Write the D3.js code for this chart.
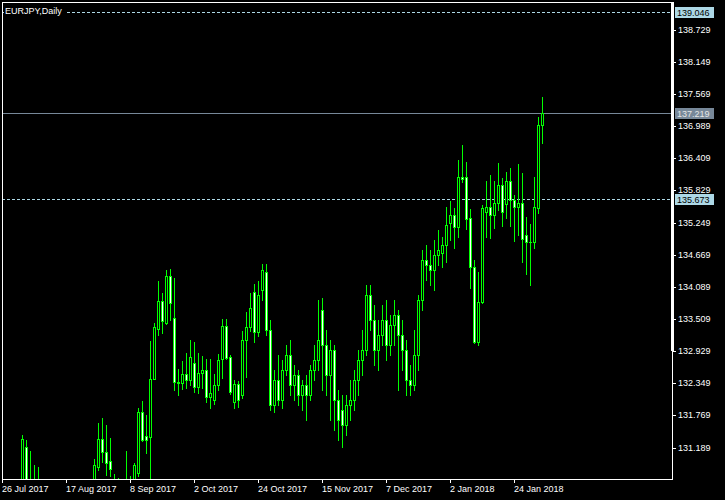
<!DOCTYPE html>
<html><head><meta charset="utf-8">
<script src="https://cdn.jsdelivr.net/npm/d3@7"></script>
<style>html,body{margin:0;padding:0;background:#000;}svg{display:block;}</style>
</head><body>
<svg id="c" width="725" height="500"></svg>
<script>
const title = "EURJPY,Daily";
const xTickIdx = [0,16,32,48,64,80,96,112,128];
const xTickLabels = ["26 Jul 2017","17 Aug 2017","8 Sep 2017","2 Oct 2017","24 Oct 2017","15 Nov 2017","7 Dec 2017","2 Jan 2018","24 Jan 2018"];
const yTicks = [131.189,131.769,132.349,132.929,133.509,134.089,134.669,135.249,135.829,136.409,136.989,137.569,138.149,138.729];
const levelLines = [139.046, 135.673];
const bidPrice = 137.219;
const yDomain = [130.624, 139.225];

const open = [130.20,130.35,130.25,130.10,130.40,130.45,131.20,130.50,130.20,130.40,
130.10,129.85,130.05,130.30,130.00,129.75,129.90,129.65,129.80,130.10,
130.30,130.10,130.20,130.40,130.84,131.35,131.11,130.95,130.55,130.35,
130.20,130.40,130.50,130.30,130.73,131.83,131.40,131.38,132.43,133.33,
133.83,133.44,134.28,133.52,132.37,132.35,132.51,132.41,132.71,132.29,
132.53,132.59,132.11,132.05,132.32,132.78,133.38,132.82,132.01,132.34,
132.14,133.13,133.36,133.99,133.28,134.03,134.36,133.31,131.96,132.41,
132.05,132.59,132.86,132.32,132.50,132.14,132.32,132.14,132.59,132.77,
133.67,133.04,132.50,132.95,132.05,131.87,131.60,131.96,132.05,132.41,
132.77,132.95,133.94,133.49,132.95,133.22,133.49,133.04,133.40,133.58,
133.22,132.95,132.41,132.32,132.86,133.85,134.57,134.48,134.39,134.66,
134.70,134.84,135.24,135.38,135.17,136.07,136.07,135.33,134.45,133.10,
133.82,135.44,135.52,135.38,135.60,135.92,135.58,136.00,135.65,135.53,
135.60,135.02,134.90,134.90,135.51,137.00];
const high = [130.45,130.50,130.40,130.45,130.55,131.42,131.33,131.13,130.88,130.84,
130.40,130.20,130.45,130.55,130.30,130.10,130.20,130.00,130.25,130.50,
130.55,130.40,130.58,130.98,131.64,131.72,131.60,131.37,130.72,130.65,
130.50,131.12,130.68,130.92,131.91,132.03,131.78,133.11,133.44,134.19,
133.97,134.39,134.41,134.25,132.61,132.75,132.90,133.13,133.09,132.90,
132.84,132.79,132.79,132.51,132.88,133.51,133.51,132.86,132.41,132.39,
133.29,133.64,133.97,134.14,134.19,134.50,134.50,133.49,132.59,132.86,
132.77,133.04,133.13,132.68,132.59,132.41,132.50,132.68,133.04,133.85,
133.89,133.31,133.13,133.04,132.23,132.14,132.14,132.41,132.59,132.95,
133.31,134.12,134.12,133.76,133.49,133.76,133.85,133.58,133.85,133.67,
133.49,133.13,132.68,133.31,133.94,134.75,134.84,134.75,134.93,135.11,
134.98,135.53,135.64,135.51,136.38,136.65,136.34,135.49,134.57,134.36,
135.57,135.99,136.11,135.99,136.32,136.05,136.16,136.23,135.74,136.30,
136.14,135.34,135.22,136.07,137.15,137.51];
const low = [130.05,130.10,129.90,130.00,130.20,130.30,130.20,130.00,129.90,130.00,
129.70,129.50,129.80,129.90,129.60,129.40,129.55,129.30,129.60,129.85,
129.95,129.80,130.00,130.20,130.79,130.93,130.70,130.67,130.20,130.05,
129.95,130.00,130.10,130.10,130.68,131.31,131.10,130.55,132.42,133.22,
133.26,133.42,133.49,132.23,132.14,132.25,132.27,132.32,132.20,132.18,
132.27,132.01,131.90,131.98,132.23,132.44,132.79,132.15,131.90,131.92,
132.09,132.46,133.30,133.10,133.20,133.85,133.22,131.87,131.83,131.96,
131.90,132.50,132.14,132.05,131.96,131.87,131.69,132.05,132.41,132.59,
132.23,132.14,131.69,131.51,131.33,131.20,131.42,131.69,131.87,132.14,
132.50,132.86,133.31,132.68,132.59,133.04,132.77,132.86,133.04,132.23,
132.59,132.14,132.14,132.23,132.59,133.67,134.21,134.12,134.03,134.48,
134.45,134.54,134.93,134.79,134.99,135.98,135.13,134.07,133.07,133.04,
133.80,134.99,134.97,135.15,135.47,135.18,135.33,135.18,134.92,135.02,
134.54,134.32,134.12,134.79,135.42,136.68];
const close = [130.35,130.25,130.10,130.40,130.45,131.35,130.30,130.20,130.40,130.10,
129.85,130.05,130.30,130.00,129.75,129.90,129.65,129.80,130.10,130.30,
130.10,130.20,130.40,130.88,131.35,131.11,130.91,130.80,130.35,130.20,
130.40,130.50,130.30,130.88,131.83,131.33,131.33,132.43,133.36,133.84,
133.47,134.28,133.80,132.37,132.35,132.51,132.41,132.83,132.29,132.53,
132.59,132.11,132.17,132.32,132.77,133.38,132.81,132.19,132.34,132.05,
133.13,133.36,133.70,133.27,133.95,134.39,133.31,131.96,132.41,132.05,
132.59,132.86,132.32,132.50,132.14,132.32,132.14,132.59,132.77,133.13,
133.04,132.50,132.95,132.05,131.69,131.60,131.96,132.05,132.41,132.77,
132.95,133.94,133.49,132.95,133.22,133.49,133.04,133.40,133.58,133.22,
132.95,132.41,132.32,132.86,133.85,134.57,134.48,134.39,134.66,134.75,
134.84,135.20,135.38,135.17,136.07,136.03,135.31,134.45,133.10,133.82,
135.51,135.52,135.38,135.60,135.92,135.43,136.00,135.65,135.53,135.60,
134.95,134.89,134.89,135.52,137.00,137.219];

const bars = open.map((o,i)=>({i, o, h:high[i], l:low[i], c:close[i]}));

const L=2, R=672, T=2, B=479;
const svg = d3.select("#c");
const FONT = "'Liberation Sans', Arial, sans-serif";
const FS = "9px";
svg.append("rect").attr("width",725).attr("height",500).attr("fill","#000");

const x = d3.scaleLinear().domain([0,135]).range([2,542]);
const y = d3.scaleLinear().domain(yDomain).range([B,T]);

svg.append("clipPath").attr("id","clip").append("rect")
  .attr("x",L).attr("y",T).attr("width",R-L).attr("height",B-T);
const g = svg.append("g").attr("clip-path","url(#clip)").attr("shape-rendering","crispEdges");

// level lines
levelLines.forEach(v=>{
  const yy = Math.round(y(v))+0.5;
  g.append("line").attr("x1",L).attr("x2",R).attr("y1",yy).attr("y2",yy)
    .attr("stroke","#add8e6").attr("stroke-dasharray","3,2");
});
const by = Math.round(y(bidPrice))+0.5;
g.append("line").attr("x1",L).attr("x2",R).attr("y1",by).attr("y2",by).attr("stroke","#778899");

// candles
const cg = g.selectAll("g.bar").data(bars).join("g");
cg.append("line")
  .attr("x1",d=>Math.round(x(d.i))+0.5).attr("x2",d=>Math.round(x(d.i))+0.5)
  .attr("y1",d=>Math.round(y(d.h))).attr("y2",d=>Math.round(y(d.l))+1)
  .attr("stroke","#00ff00");
cg.append("rect")
  .attr("x",d=>Math.round(x(d.i))-0.5)
  .attr("y",d=>Math.round(y(Math.max(d.o,d.c)))+0.5)
  .attr("width",2)
  .attr("height",d=>Math.max(0.01, Math.round(y(Math.min(d.o,d.c)))-Math.round(y(Math.max(d.o,d.c)))))
  .attr("fill",d=>d.c>=d.o?"#000":"#fff")
  .attr("stroke","#00ff00");

// frame
const fr = svg.append("g").attr("shape-rendering","crispEdges");
fr.append("line").attr("x1",L).attr("x2",R+1).attr("y1",T+0.5).attr("y2",T+0.5).attr("stroke","#fff");
fr.append("line").attr("x1",L+0.5).attr("x2",L+0.5).attr("y1",T).attr("y2",B+1).attr("stroke","#fff");
fr.append("line").attr("x1",L).attr("x2",R+1).attr("y1",B+0.5).attr("y2",B+0.5).attr("stroke","#fff");
fr.append("line").attr("x1",R+0.5).attr("x2",R+0.5).attr("y1",T).attr("y2",B+1).attr("stroke","#fff");
fr.append("rect").attr("x",R-1).attr("y",T).attr("width",3).attr("height",y(132.929)-T).attr("fill","#fff");

// y axis
const yAxis = d3.axisRight(y).tickValues(yTicks).tickFormat(d3.format(".3f")).tickSize(3).tickPadding(2);
const ya = svg.append("g").attr("transform",`translate(${R+1},0)`).call(yAxis);
ya.select(".domain").remove();
ya.selectAll("line").attr("stroke","#fff").attr("shape-rendering","crispEdges");
ya.selectAll("text").attr("fill","#fff").attr("font-family",FONT).attr("font-size",FS);
ya.selectAll(".tick").attr("transform",d=>`translate(0,${Math.round(y(d))+0.5})`);

// price labels
function priceLabel(v, bg, fg){
  const yy = Math.round(y(v));
  svg.append("rect").attr("x",675).attr("y",yy-5).attr("width",39).attr("height",11).attr("fill",bg);
  svg.append("text").attr("x",677).attr("y",yy+4).attr("fill",fg).attr("font-family",FONT)
    .attr("font-size",FS).text(d3.format(".3f")(v));
}
priceLabel(139.046,"#add8e6","#000");
priceLabel(bidPrice,"#778899","#e6e6e6");
priceLabel(135.673,"#add8e6","#000");

// x axis
const xs = svg.append("g");
xTickIdx.forEach((idx,k)=>{
  const xx = Math.round(x(idx))+0.5;
  xs.append("line").attr("x1",xx).attr("x2",xx).attr("y1",B).attr("y2",B+4).attr("stroke","#fff").attr("shape-rendering","crispEdges");
  xs.append("text").attr("x",xx-0.5).attr("y",B+13).attr("fill","#fff").attr("font-family",FONT)
    .attr("font-size",FS).text(xTickLabels[k]);
});

// title
svg.append("rect").attr("x",4).attr("y",5).attr("width",62).attr("height",12).attr("fill","#000");
svg.append("text").attr("x",5).attr("y",14).attr("fill","#fff").attr("font-family",FONT).attr("font-size",FS).text(title);
</script>
</body></html>
